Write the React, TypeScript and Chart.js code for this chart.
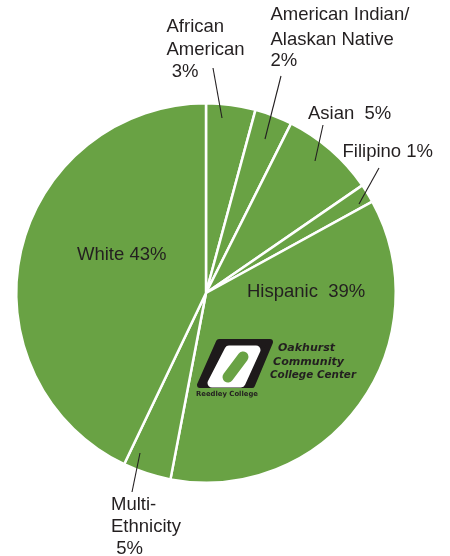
import React, { useEffect, useRef } from "react";
import { Chart, registerables } from "chart.js";

Chart.register(...registerables);

// Slice shares as drawn (measured from slice angles), clockwise from 12 o'clock
const categories = [
  "African American",
  "American Indian/Alaskan Native",
  "Asian",
  "Filipino",
  "Hispanic",
  "Multi-Ethnicity",
  "White",
];
const sliceShares = [4.2, 3.2, 8.0, 1.6, 36.0, 4.1, 42.9];
// Printed labels
const labelLines = [
  ["African", "American", " 3%"],
  ["American Indian/", "Alaskan Native", "2%"],
  ["Asian  5%"],
  ["Filipino 1%"],
  ["Hispanic  39%"],
  ["Multi-", "Ethnicity", " 5%"],
  ["White 43%"],
];

const GREEN = "#69a244";
const INK = "#231f20";
const FONT = '18.5px "Liberation Sans", Arial, sans-serif';

// label placement (page px)
const labelPos = [
  { x: 166.5, ys: [31.5, 55, 77] },
  { x: 270.5, ys: [20, 44.5, 66] },
  { x: 308, ys: [118.5] },
  { x: 342.5, ys: [157] },
  { x: 247, ys: [296.5] },
  { x: 111, ys: [510, 532, 554] },
  { x: 77, ys: [260] },
];
const leaders: number[][] = [
  [213, 68, 222, 118],
  [281, 76, 265, 139],
  [323, 125, 315, 161],
  [379, 168, 359, 204],
  [],
  [140, 453, 132, 492],
  [],
];

function fitText(ctx: CanvasRenderingContext2D, text: string, x: number, y: number, w: number) {
  const m = ctx.measureText(text).width;
  ctx.save();
  ctx.translate(x, y);
  ctx.scale(w / m, 1);
  ctx.fillText(text, 0, 0);
  ctx.restore();
}

const annotate = {
  id: "annotate",
  afterDraw(chart: any) {
    const ctx = chart.ctx as CanvasRenderingContext2D;
    ctx.save();
    ctx.fillStyle = INK;
    ctx.strokeStyle = INK;
    ctx.lineWidth = 1.1;
    ctx.font = FONT;
    ctx.textBaseline = "alphabetic";
    ctx.textAlign = "left";
    labelLines.forEach((lines, i) => {
      const p = labelPos[i];
      lines.forEach((t, j) => ctx.fillText(t, p.x, p.ys[j]));
      const l = leaders[i];
      if (l.length) {
        ctx.beginPath();
        ctx.moveTo(l[0], l[1]);
        ctx.lineTo(l[2], l[3]);
        ctx.stroke();
      }
    });

    // logo
    ctx.lineJoin = "round";
    ctx.fillStyle = "#1e1a1b";
    ctx.strokeStyle = "#1e1a1b";
    ctx.lineWidth = 6;
    ctx.beginPath();
    ctx.moveTo(219, 342);
    ctx.lineTo(270, 342);
    ctx.lineTo(252, 385);
    ctx.lineTo(200, 385);
    ctx.closePath();
    ctx.fill();
    ctx.stroke();

    ctx.fillStyle = "#ffffff";
    ctx.strokeStyle = "#ffffff";
    ctx.lineWidth = 9;
    ctx.beginPath();
    ctx.moveTo(229, 350);
    ctx.lineTo(256, 350);
    ctx.lineTo(241, 383);
    ctx.lineTo(212, 383);
    ctx.closePath();
    ctx.fill();
    ctx.stroke();

    // inner hole
    ctx.strokeStyle = GREEN;
    ctx.lineWidth = 11;
    ctx.lineCap = "round";
    ctx.beginPath();
    ctx.moveTo(243, 357);
    ctx.lineTo(228, 377);
    ctx.stroke();

    ctx.fillStyle = INK;
    ctx.font = 'italic bold 11px "DejaVu Sans", sans-serif';
    fitText(ctx, "Oakhurst", 278, 350.5, 57);
    fitText(ctx, "Community", 273, 364.5, 71);
    fitText(ctx, "College Center", 270, 377.5, 86);
    ctx.font = 'bold 7px "DejaVu Sans", sans-serif';
    fitText(ctx, "Reedley College", 196, 396, 62);
    ctx.restore();
  },
};

export default function App() {
  const ref = useRef<HTMLCanvasElement>(null);
  useEffect(() => {
    document.body.style.margin = "0";
    const chart = new Chart(ref.current!, {
      type: "pie",
      data: {
        labels: categories,
        datasets: [
          {
            data: sliceShares,
            backgroundColor: GREEN,
            borderColor: "#ffffff",
            borderWidth: 2.5,
          },
        ],
      },
      options: {
        animation: false,
        responsive: false,
        maintainAspectRatio: false,
        layout: { padding: { left: 15, right: 53, top: 102, bottom: 72 } },
        plugins: { legend: { display: false }, tooltip: { enabled: false } },
      },
      plugins: [annotate],
    });
    return () => chart.destroy();
  }, []);
  return (
    <div style={{ width: 450, height: 556, background: "#ffffff" }}>
      <canvas ref={ref} width={450} height={556} style={{ width: 450, height: 556 }} />
    </div>
  );
}
